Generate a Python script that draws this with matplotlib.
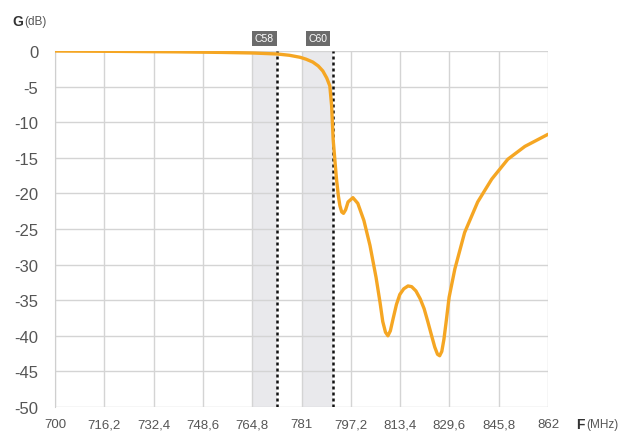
import numpy as np
import matplotlib
matplotlib.use("Agg")
import matplotlib.pyplot as plt

plt.rcParams['font.family'] = ['Liberation Sans', 'DejaVu Sans']
plt.rcParams['axes.unicode_minus'] = False

# frequency (MHz) and gain (dB)
freq = [700, 720, 740, 755, 765, 773, 777, 780.5, 782.5, 784.7, 786.5, 788,
        789.3, 790.3, 790.9, 791.4, 792, 792.5, 793.1, 793.6, 794.2, 794.8,
        795.5, 796.3, 797.9, 799.5, 801.5, 803.5, 805.5, 806.8, 807.7, 808.6,
        809.4, 810.2, 811.1, 812.2, 813.3, 814.6, 816, 817.2, 818.6, 820,
        821.3, 822.5, 823.7, 824.8, 825.7, 826.4, 827.1, 827.8, 828.6, 829.5,
        831.4, 834.6, 838.9, 843.5, 848.8, 854.4, 862]
gain = [0, -0.05, -0.12, -0.2, -0.28, -0.42, -0.6, -0.88, -1.15, -1.55, -2.1,
        -2.8, -3.8, -4.9, -7.7, -12.4, -15.5, -18, -20.3, -21.7, -22.6, -22.8,
        -22.3, -21.2, -20.6, -21.4, -23.8, -27.3, -31.8, -35.3, -38, -39.5,
        -40, -39.3, -37.6, -35.6, -34.2, -33.4, -33, -33.1, -33.7, -34.8,
        -36.2, -38, -39.9, -41.6, -42.6, -42.8, -42.2, -40.5, -37.8, -34.6,
        -30.6, -25.5, -21.2, -18, -15.2, -13.4, -11.7]

yticks = [0, -5, -10, -15, -20, -25, -30, -35, -40, -45, -50]
xticks = [700, 716.2, 732.4, 748.6, 764.8, 781, 797.2, 813.4, 829.6, 845.8, 862]
xlabels = ['700', '716,2', '732,4', '748,6', '764,8', '781', '797,2',
           '813,4', '829,6', '845,8', '862']

channels = ['C58', 'C60']
band_lo = [764.8, 781.4]
band_hi = [772.8, 791.3]

fig = plt.figure(figsize=(6.23, 4.35), dpi=100)
ax = fig.add_axes([55 / 623, 1 - 408 / 435, 493 / 623, 356 / 435])

for name, lo, hi in zip(channels, band_lo, band_hi):
    ax.axvspan(lo, hi, color='#e9e9ec', zorder=0, lw=0)
    ax.axvline(hi, color='#111111', ls=(0, (1.2, 1.2)), lw=1.8, zorder=2)
    ax.text((lo + hi) / 2, 1.022, name, transform=ax.get_xaxis_transform(),
            ha='center', va='bottom', fontsize=7.5, color='white',
            bbox=dict(boxstyle='square,pad=0.25', fc='#6b6b6b', ec='none'))

ax.plot(freq, gain, color='#f5a623', lw=2.4, zorder=3,
        solid_joinstyle='round', solid_capstyle='round')

ax.set_xlim(700, 862)
ax.set_ylim(-50, 0)
ax.set_xticks(xticks)
ax.set_xticklabels(xlabels)
ax.set_yticks(yticks)
ax.grid(True, color='#d4d4d4', lw=1)
ax.set_axisbelow(True)
for side in ['top', 'right', 'bottom']:
    ax.spines[side].set_visible(False)
ax.spines['left'].set_color('#cfcfcf')
ax.tick_params(length=0, colors='#555555')
ax.tick_params(axis='y', labelsize=12, pad=12)
ax.tick_params(axis='x', labelsize=9.5, pad=8)

fig.text(12 / 623, 1 - 22 / 435, 'G', fontsize=10, fontweight='bold',
         color='#333333', va='center')
fig.text(24 / 623, 1 - 22 / 435, '(dB)', fontsize=8.5, color='#555555', va='center')
fig.text(576 / 623, 1 - 425 / 435, 'F', fontsize=10, fontweight='bold',
         color='#333333', va='center')
fig.text(586 / 623, 1 - 425 / 435, '(MHz)', fontsize=8.5, color='#555555', va='center')

fig.savefig('out.png', dpi=100)
